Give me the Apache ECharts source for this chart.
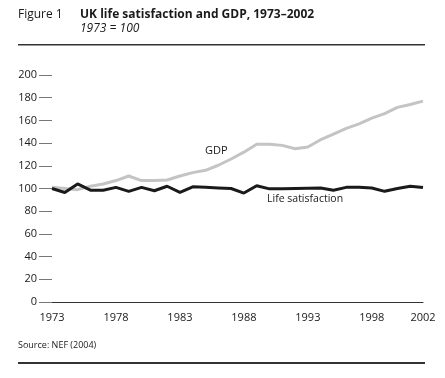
<!DOCTYPE html>
<html>
<head>
<meta charset="utf-8">
<script src="https://cdn.jsdelivr.net/npm/echarts@6/dist/echarts.min.js"></script>
<style>
html,body{margin:0;padding:0;background:#fff;}
#chart{width:445px;height:378px;}
</style>
</head>
<body>
<div id="chart"></div>
<script>
var years = ['1973','1974','1975','1976','1977','1978','1979','1980','1981','1982','1983','1984','1985','1986','1987','1988','1989','1990','1991','1992','1993','1994','1995','1996','1997','1998','1999','2000','2001','2002'];
var lifeSatisfaction = [100, 96.5, 104, 98.5, 98.5, 101, 97.5, 101, 98, 102, 96.5, 101.5, 101, 100.5, 100, 96, 102.4, 99.7, 99.7, 100, 100.3, 100.5, 98.5, 101, 101, 100.5, 97.5, 100, 102, 100.8];
var gdp = [101, 100, 99, 102, 104, 107, 111, 107, 107, 107.5, 111, 114, 116, 120.5, 126, 132, 139, 139, 138, 135, 136.5, 143, 148, 153, 157, 162, 166, 171.5, 174, 177];
var shownYearLabels = ['1973','1978','1983','1988','1993','1998','2002'];
var yTicks = [0, 20, 40, 60, 80, 100, 120, 140, 160, 180, 200];

var FONT = '"Open Sans", "Noto Sans", sans-serif';
var chart = echarts.init(document.getElementById('chart'), null, {renderer: 'canvas'});
chart.setOption({
  animation: false,
  backgroundColor: '#fff',
  grid: {left: 52, right: 22, top: 75, bottom: 76, containLabel: false},
  xAxis: {
    type: 'category',
    data: years,
    boundaryGap: false,
    axisLine: {show: true, lineStyle: {color: '#333', width: 1}},
    axisTick: {show: false},
    axisLabel: {
      interval: 0,
      formatter: function (v) { return shownYearLabels.indexOf(v) >= 0 ? v : ''; },
      color: '#1a1a1a', fontFamily: FONT, fontSize: 11, margin: 10
    },
    splitLine: {show: false}
  },
  yAxis: {
    type: 'value',
    min: yTicks[0], max: yTicks[yTicks.length - 1], interval: 20,
    axisLine: {show: false},
    axisTick: {show: true, length: 13, lineStyle: {color: '#777', width: 1}},
    axisLabel: {color: '#1a1a1a', fontFamily: FONT, fontSize: 11, margin: 15},
    splitLine: {show: false}
  },
  series: [
    {
      name: 'GDP', type: 'line', data: gdp, symbol: 'none', z: 2,
      lineStyle: {color: '#c4c4c4', width: 3}
    },
    {
      name: 'Life satisfaction', type: 'line', data: lifeSatisfaction, symbol: 'none', z: 3,
      lineStyle: {color: '#1a1a1a', width: 3}
    }
  ],
  graphic: [
    {type: 'text', left: 18, top: 9, style: {text: 'Figure 1', font: '12px ' + FONT, fill: '#1a1a1a'}},
    {type: 'text', left: 80, top: 9, style: {text: 'UK life satisfaction and GDP, 1973–2002', font: 'bold 12px ' + FONT, fill: '#1a1a1a'}},
    {type: 'text', left: 80, top: 23, style: {text: '1973 = 100', font: 'italic 12px ' + FONT, fill: '#1a1a1a'}},
    {type: 'rect', shape: {x: 18, y: 44, width: 407, height: 1.5}, style: {fill: '#333'}},
    {type: 'text', left: 205, top: 145, style: {text: 'GDP', font: '11px ' + FONT, fill: '#1a1a1a'}},
    {type: 'text', left: 267, top: 194, style: {text: 'Life satisfaction', font: '10.5px ' + FONT, fill: '#1a1a1a'}},
    {type: 'text', left: 18, top: 341, style: {text: 'Source: NEF (2004)', font: '9px ' + FONT, fill: '#1a1a1a'}},
    {type: 'rect', shape: {x: 18, y: 362, width: 407, height: 2}, style: {fill: '#333'}}
  ]
});
</script>
</body>
</html>
